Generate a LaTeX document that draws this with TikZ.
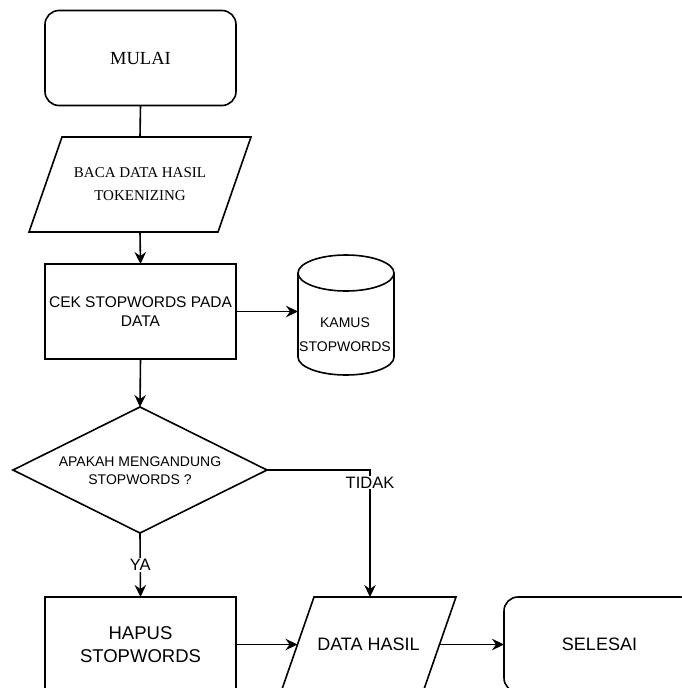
\documentclass[tikz,border=0pt]{standalone}
\usepackage{fontspec}
\setmainfont{Liberation Serif}
\setsansfont{Liberation Sans}
\usetikzlibrary{shapes.geometric,arrows.meta,calc}
\begin{document}
\begin{tikzpicture}[x=1pt,y=1pt,
  every node/.style={inner sep=0pt, outer sep=0pt, align=center},
  line/.style={line width=1.6pt},
  arr/.style={line width=1.6pt, -{Stealth[length=12pt,width=11.5pt,inset=4pt]}},
  termbox/.style={draw, line width=1.6pt, rounded corners=14pt, minimum width=191pt, minimum height=95pt, fill=white},
  procbox/.style={draw, line width=1.6pt, minimum width=191pt, minimum height=95pt, fill=white},
  iobox/.style={minimum height=95pt},
  decbox/.style={draw, line width=1.6pt, diamond, minimum width=254pt, minimum height=126pt, fill=white},
  lbl/.style={fill=white, font=\sffamily\fontsize{16.5}{18}\selectfont, inner sep=1pt}
]
\useasboundingbox (0,0) rectangle (682,-688);
\clip (0,0) rectangle (682,-688);

\node[termbox, font=\rmfamily\fontsize{18.5}{22}\selectfont] (mulai) at (140.5,-58) {MULAI};
\node[iobox, minimum width=222pt] (baca) at (140,-184.5) {};
\draw[line, fill=white] ([xshift=33pt]baca.north west) -- (baca.north east) -- ([xshift=-33pt]baca.south east) -- (baca.south west) -- cycle;
\node[font=\rmfamily\fontsize{15}{23}\selectfont] (bacatext) at (baca) {BACA DATA HASIL\\TOKENIZING};

\node[procbox, font=\sffamily\fontsize{15.5}{19}\selectfont] (cek) at (140.5,-311.5) {CEK STOPWORDS PADA\\DATA};
\node[minimum width=96pt, minimum height=120pt] (kamus) at (346,-315) {};
\node[decbox] (dec) at (140,-470) {};
\node[procbox, font=\sffamily\fontsize{18.5}{23}\selectfont] (hapus) at (140.5,-644.5) {HAPUS\\STOPWORDS};
\node[iobox, minimum width=175pt] (data) at (368.5,-644.5) {};
\draw[line, fill=white] ([xshift=33pt]data.north west) -- (data.north east) -- ([xshift=-33pt]data.south east) -- (data.south west) -- cycle;
\node[font=\sffamily\fontsize{18}{21}\selectfont] (datatext) at (data) {DATA HASIL};
\coordinate (dataL) at ([xshift=16.5pt]data.west);
\coordinate (dataR) at ([xshift=-16.5pt]data.east);
\coordinate (dataT) at ([xshift=1.5pt]data.north);
\node[termbox, font=\sffamily\fontsize{18}{21}\selectfont] (selesai) at (599.5,-644.5) {SELESAI};

% cylinder
\draw[line, fill=white] ([yshift=-18pt]kamus.north west) -- ([yshift=18pt]kamus.south west)
  arc[start angle=180, end angle=360, x radius=48pt, y radius=18pt]
  -- ([yshift=-18pt]kamus.north east)
  arc[start angle=0, end angle=180, x radius=48pt, y radius=18pt] -- cycle;
\draw[line] ([yshift=-18pt]kamus.north west) arc[start angle=180, end angle=360, x radius=48pt, y radius=18pt];
\node[font=\sffamily\fontsize{14}{24}\selectfont] (kamustext) at (345,-335) {KAMUS\\STOPWORDS};

\node[font=\sffamily\fontsize{14}{18}\selectfont] (dectext) at (140,-471) {APAKAH MENGANDUNG\\STOPWORDS ?};

\draw[line] (mulai.south) -- (baca.north);
\draw[arr] (baca.south) -- (cek.north);
\draw[arr] (cek.east) -- (cek.east -| kamus.west);
\draw[arr] (cek.south) -- (dec.north);
\draw[arr] (dec.south) -- node[lbl, pos=0.5] (ya) {YA} (hapus.north);
\draw[arr] (dec.east) -| node[lbl, pos=0.55] (tidak) {TIDAK} (dataT);
\draw[arr] (hapus.east) -- (dataL);
\draw[arr] (dataR) -- (dataR -| selesai.west);
\end{tikzpicture}
\end{document}
